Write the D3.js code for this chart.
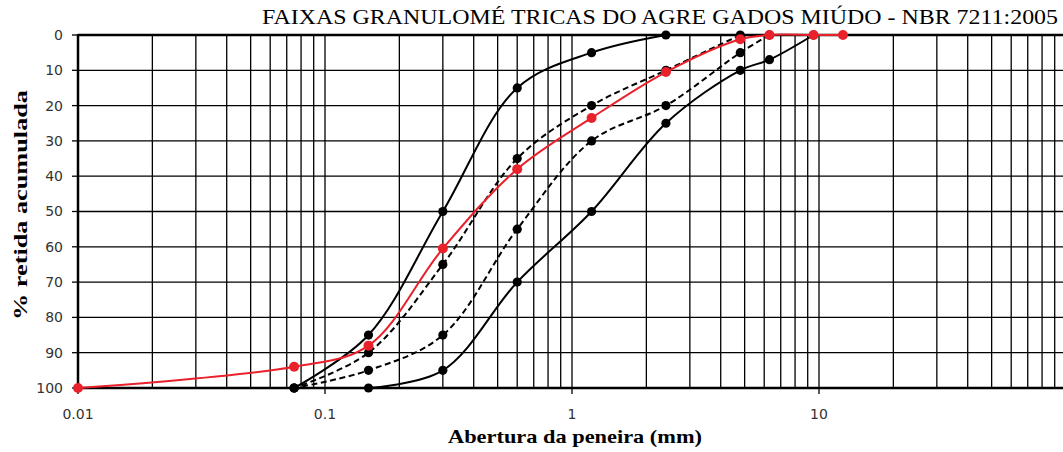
<!DOCTYPE html>
<html>
<head>
<meta charset="utf-8">
<script src="https://cdn.jsdelivr.net/npm/d3@7"></script>
<style>
  body { margin: 0; background: #fff; }
  .tick-label { font-family: "DejaVu Sans", sans-serif; font-size: 14px; fill: #333; }
  .axis-label { font-family: "Liberation Serif", serif; font-weight: bold; font-size: 19px; fill: #000; }
  .title { font-family: "Liberation Serif", serif; font-size: 22px; fill: #000; }
</style>
</head>
<body>
<div id="chart"></div>
<script>
// peneiras (mm) e % retida acumulada
const sievesUtilLow = [2.4, 1.2, 0.6, 0.3, 0.15, 0.075];
const utilLow = [0, 5, 15, 50, 85, 100];

const sievesOptLow = [4.8, 2.4, 1.2, 0.6, 0.3, 0.15, 0.075];
const optLow = [0, 10, 20, 35, 65, 90, 100];

const sievesOptHigh = [6.3, 4.8, 2.4, 1.2, 0.6, 0.3, 0.15, 0.075];
const optHigh = [0, 5, 20, 30, 55, 85, 95, 100];

const sievesUtilHigh = [9.5, 6.3, 4.8, 2.4, 1.2, 0.6, 0.3, 0.15];
const utilHigh = [0, 7, 10, 25, 50, 70, 95, 100];

const sievesSample = [12.5, 9.5, 6.3, 4.8, 2.4, 1.2, 0.6, 0.3, 0.15, 0.075, 0.01];
const sample = [0, 0, 0, 1.2, 10.5, 23.5, 38, 60.5, 88, 94, 100];

const xTickLabels = ["0.01", "0.1", "1", "10"];
const yTicks = [0, 10, 20, 30, 40, 50, 60, 70, 80, 90, 100];

const titleText = "FAIXAS GRANULOMÉ TRICAS DO AGRE GADOS MIÚDO - NBR 7211:2005";

const width = 1063, height = 452;
const margin = {left: 78, top: 35, bottom: 64};

const svg = d3.select("#chart").append("svg")
  .attr("width", width)
  .attr("height", height);

const x = d3.scaleLog()
  .domain([0.01, 100])
  .range([margin.left, 1066]);

const y = d3.scaleLinear()
  .domain([0, 100])
  .range([margin.top, height - margin.bottom]);

// grid vertical (log minor)
const vLines = [];
[0.01, 0.1, 1, 10].forEach(function(dec) {
  for (let k = 1; k <= 9; k++) vLines.push(dec * k);
});

svg.append("g").selectAll("line")
  .data(vLines)
  .enter().append("line")
    .attr("x1", function(d) { return x(d); })
    .attr("x2", function(d) { return x(d); })
    .attr("y1", y(0))
    .attr("y2", y(100))
    .attr("stroke", "#000")
    .attr("stroke-width", 1.3);

svg.append("g").selectAll("line")
  .data(yTicks.slice(1, -1))
  .enter().append("line")
    .attr("x1", x(0.01))
    .attr("x2", width)
    .attr("y1", function(d) { return y(d); })
    .attr("y2", function(d) { return y(d); })
    .attr("stroke", "#000")
    .attr("stroke-width", 1.3);

// borders / axes
svg.append("line")
  .attr("x1", x(0.01)).attr("x2", width)
  .attr("y1", y(0)).attr("y2", y(0))
  .attr("stroke", "#000").attr("stroke-width", 2.5);

svg.append("line")
  .attr("x1", x(0.01)).attr("x2", width)
  .attr("y1", y(100)).attr("y2", y(100))
  .attr("stroke", "#000").attr("stroke-width", 2.5);

svg.append("line")
  .attr("x1", x(0.01)).attr("x2", x(0.01))
  .attr("y1", y(0) - 1).attr("y2", y(100) + 1)
  .attr("stroke", "#000").attr("stroke-width", 2.5);

// y ticks
svg.append("g").selectAll("line")
  .data(yTicks)
  .enter().append("line")
    .attr("x1", x(0.01) - 6)
    .attr("x2", x(0.01))
    .attr("y1", function(d) { return y(d); })
    .attr("y2", function(d) { return y(d); })
    .attr("stroke", "#000")
    .attr("stroke-width", 1.3);

svg.append("g").selectAll("text")
  .data(yTicks)
  .enter().append("text")
    .attr("class", "tick-label")
    .attr("x", x(0.01) - 15)
    .attr("y", function(d) { return y(d); })
    .attr("dy", "0.35em")
    .attr("text-anchor", "end")
    .text(function(d) { return d; });

// x ticks
svg.append("g").selectAll("line")
  .data(xTickLabels)
  .enter().append("line")
    .attr("x1", function(d) { return x(+d); })
    .attr("x2", function(d) { return x(+d); })
    .attr("y1", y(100))
    .attr("y2", y(100) + 6)
    .attr("stroke", "#000")
    .attr("stroke-width", 1.3);

svg.append("g").selectAll("text")
  .data(xTickLabels)
  .enter().append("text")
    .attr("class", "tick-label")
    .attr("x", function(d) { return x(+d); })
    .attr("y", 419)
    .attr("text-anchor", "middle")
    .text(function(d) { return d; });

// curves
const line = d3.line()
  .x(function(d) { return x(d[0]); })
  .y(function(d) { return y(d[1]); })
  .curve(d3.curveCatmullRom.alpha(0.5));

const series = [
  {xs: sievesUtilLow, ys: utilLow, color: "#000", dash: null},
  {xs: sievesOptLow, ys: optLow, color: "#000", dash: "6,3.5"},
  {xs: sievesOptHigh, ys: optHigh, color: "#000", dash: "6,3.5"},
  {xs: sievesUtilHigh, ys: utilHigh, color: "#000", dash: null},
  {xs: sievesSample, ys: sample, color: "#e8212b", dash: null}
];

series.forEach(function(s) {
  const pts = s.xs.map(function(v, i) { return [v, s.ys[i]]; });
  svg.append("path")
    .datum(pts)
    .attr("d", line)
    .attr("fill", "none")
    .attr("stroke", s.color)
    .attr("stroke-width", 2)
    .attr("stroke-dasharray", s.dash);
  svg.append("g").selectAll("circle")
    .data(pts)
    .enter().append("circle")
      .attr("cx", function(d) { return x(d[0]); })
      .attr("cy", function(d) { return y(d[1]); })
      .attr("r", s.color === "#000" ? 4.6 : 5)
      .attr("fill", s.color);
});

// labels
svg.append("text")
  .attr("class", "title")
  .attr("x", 262)
  .attr("y", 24)
  .attr("textLength", 796)
  .attr("lengthAdjust", "spacingAndGlyphs")
  .text(titleText);

svg.append("text")
  .attr("class", "axis-label")
  .attr("x", 448)
  .attr("y", 443)
  .attr("textLength", 254)
  .attr("lengthAdjust", "spacingAndGlyphs")
  .text("Abertura da peneira (mm)");

svg.append("g")
  .attr("transform", "translate(27," + 205 + ")")
  .append("text")
    .attr("class", "axis-label")
    .attr("transform", "rotate(-90)")
    .attr("x", -115)
    .attr("textLength", 230)
    .attr("lengthAdjust", "spacingAndGlyphs")
    .text("% retida acumulada");
</script>
</body>
</html>
